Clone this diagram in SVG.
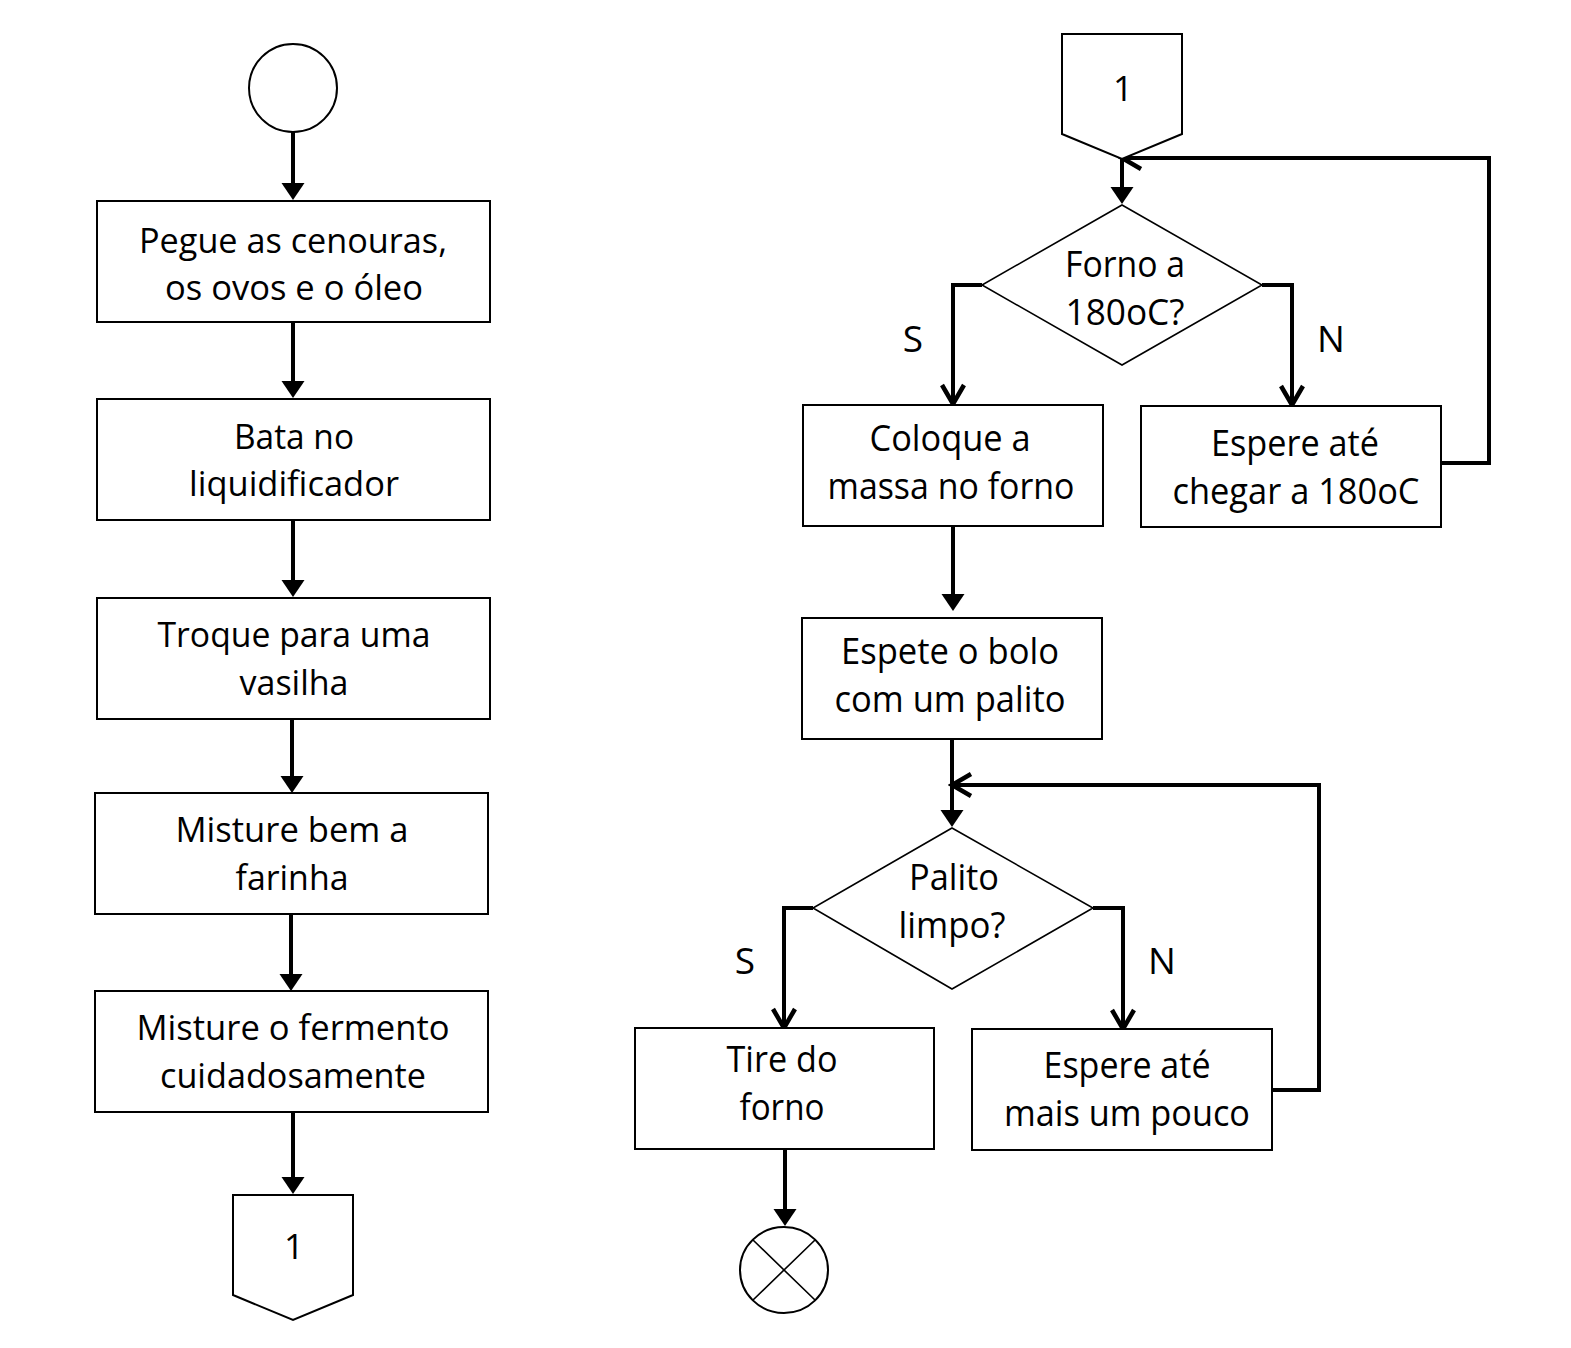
<svg xmlns="http://www.w3.org/2000/svg" width="1571" height="1348" viewBox="0 0 1571 1348">
<style>
.box{fill:#fff;stroke:#000;stroke-width:2}
.dia{fill:#fff;stroke:#000;stroke-width:1.6}
.c{fill:none;stroke:#000;stroke-width:4;stroke-linejoin:miter}
.fa{marker-end:url(#fill)}
.oa{marker-end:url(#open)}
text{font-family:"Open Sans","Liberation Sans",sans-serif;font-size:35px;fill:#000;text-anchor:middle}
.r{font-size:37px}
</style>
<defs>
<marker id="fill" markerUnits="userSpaceOnUse" viewBox="0 -13 18 26" refX="1" refY="0" markerWidth="18" markerHeight="26" orient="auto">
<path d="M0,-11.5 L17,0 L0,11.5 Z" fill="#000"/>
</marker>
<marker id="open" markerUnits="userSpaceOnUse" viewBox="-24 -15 28 30" refX="0" refY="0" markerWidth="28" markerHeight="30" orient="auto">
<path d="M-19,-11 L0,0 L-19,11" fill="none" stroke="#000" stroke-width="4.5" stroke-linejoin="miter"/>
</marker>
</defs>
<rect width="1571" height="1348" fill="#fff"/>

<g id="connectors">
<path class="c fa" d="M293,132 V184"/>
<path class="c fa" d="M293,322 V382"/>
<path class="c fa" d="M293,520 V581"/>
<path class="c fa" d="M292,719 V777"/>
<path class="c fa" d="M291,914 V975"/>
<path class="c fa" d="M293,1112 V1178"/>
<path class="c" d="M1441,463 H1489 V158 H1122"/>
<path class="c oa" d="M1160,158 H1122"/>
<path class="c fa" d="M1122,159 V188"/>
<path class="c oa" d="M982,285 H953 V404"/>
<path class="c oa" d="M1262,285 H1292 V405"/>
<path class="c fa" d="M953,526 V595"/>
<path class="c fa" d="M952,739 V811"/>
<path class="c" d="M1272,1090 H1319 V785 H952"/>
<path class="c oa" d="M990,785 H952"/>
<path class="c oa" d="M813,908 H784 V1028"/>
<path class="c oa" d="M1093,908 H1123 V1029"/>
<path class="c fa" d="M785,1149 V1210"/>
</g>

<g id="start"><circle cx="293" cy="88" r="44" class="box"/></g>
<g id="n1"><rect x="97" y="201" width="393" height="121" class="box"/>
<text x="293" y="253" textLength="308" lengthAdjust="spacingAndGlyphs">Pegue as cenouras,</text>
<text x="294" y="300" textLength="258" lengthAdjust="spacingAndGlyphs">os ovos e o óleo</text></g>
<g id="n2"><rect x="97" y="399" width="393" height="121" class="box"/>
<text x="294" y="449" textLength="120" lengthAdjust="spacingAndGlyphs">Bata no</text>
<text x="294" y="496" textLength="210" lengthAdjust="spacingAndGlyphs">liquidificador</text></g>
<g id="n3"><rect x="97" y="598" width="393" height="121" class="box"/>
<text x="294" y="647" textLength="273" lengthAdjust="spacingAndGlyphs">Troque para uma</text>
<text x="294" y="695" textLength="109" lengthAdjust="spacingAndGlyphs">vasilha</text></g>
<g id="n4"><rect x="95" y="793" width="393" height="121" class="box"/>
<text x="292" y="842" textLength="233" lengthAdjust="spacingAndGlyphs">Misture bem a</text>
<text x="292" y="890" textLength="113" lengthAdjust="spacingAndGlyphs">farinha</text></g>
<g id="n5"><rect x="95" y="991" width="393" height="121" class="box"/>
<text x="293" y="1040" textLength="313" lengthAdjust="spacingAndGlyphs">Misture o fermento</text>
<text x="293" y="1088" textLength="266" lengthAdjust="spacingAndGlyphs">cuidadosamente</text></g>
<g id="off1"><polygon points="233,1195 353,1195 353,1295 293,1320 233,1295" class="box"/>
<text x="294" y="1259">1</text></g>

<g id="on1"><polygon points="1062,34 1182,34 1182,134 1122,159 1062,134" class="box"/>
<text x="1123" y="101">1</text></g>
<g id="d1"><polygon points="1122,205 1262,285 1122,365 982,285" class="dia"/>
<text class="r" x="1125" y="277" textLength="120" lengthAdjust="spacingAndGlyphs">Forno a</text>
<text class="r" x="1125" y="325" textLength="119" lengthAdjust="spacingAndGlyphs">180oC?</text></g>
<text class="r" x="913" y="352">S</text>
<text class="r" x="1331" y="352">N</text>
<g id="n6"><rect x="803" y="405" width="300" height="121" class="box"/>
<text class="r" x="950" y="451" textLength="161" lengthAdjust="spacingAndGlyphs">Coloque a</text>
<text class="r" x="951" y="499" textLength="247" lengthAdjust="spacingAndGlyphs">massa no forno</text></g>
<g id="n7"><rect x="1141" y="406" width="300" height="121" class="box"/>
<text class="r" x="1295" y="456" textLength="168" lengthAdjust="spacingAndGlyphs">Espere até</text>
<text class="r" x="1296" y="504" textLength="247" lengthAdjust="spacingAndGlyphs">chegar a 180oC</text></g>
<g id="n8"><rect x="802" y="618" width="300" height="121" class="box"/>
<text class="r" x="950" y="664" textLength="218" lengthAdjust="spacingAndGlyphs">Espete o bolo</text>
<text class="r" x="950" y="712" textLength="231" lengthAdjust="spacingAndGlyphs">com um palito</text></g>
<g id="d2"><polygon points="952,828 1093,908 952,989 813,908" class="dia"/>
<text class="r" x="954" y="890" textLength="90" lengthAdjust="spacingAndGlyphs">Palito</text>
<text class="r" x="952" y="938" textLength="107" lengthAdjust="spacingAndGlyphs">limpo?</text></g>
<text class="r" x="745" y="974">S</text>
<text class="r" x="1162" y="974">N</text>
<g id="n9"><rect x="635" y="1028" width="299" height="121" class="box"/>
<text class="r" x="782" y="1072" textLength="111" lengthAdjust="spacingAndGlyphs">Tire do</text>
<text class="r" x="782" y="1120" textLength="85" lengthAdjust="spacingAndGlyphs">forno</text></g>
<g id="n10"><rect x="972" y="1029" width="300" height="121" class="box"/>
<text class="r" x="1127" y="1078" textLength="167" lengthAdjust="spacingAndGlyphs">Espere até</text>
<text class="r" x="1127" y="1126" textLength="246" lengthAdjust="spacingAndGlyphs">mais um pouco</text></g>
<g id="end"><ellipse cx="784" cy="1270" rx="44" ry="43" class="box"/>
<path d="M753,1240 L815,1300 M815,1240 L753,1300" stroke="#000" stroke-width="1.6"/></g>
</svg>
